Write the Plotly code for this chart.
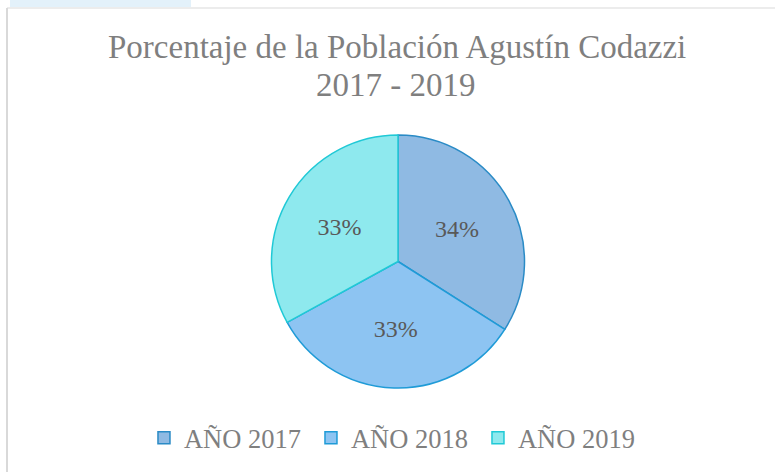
import plotly.graph_objects as go

labels = ["AÑO 2017", "AÑO 2018", "AÑO 2019"]
values = [34, 33, 33]
fill_colors = ["#8FBAE3", "#8DC4F2", "#8EE9EE"]
line_colors = ["#2A8BC6", "#1F9BD7", "#20C9D6"]
title_lines = ["Porcentaje de la Población Agustín Codazzi", "2017 - 2019"]

W, H = 775, 472
SERIF = "Liberation Serif, Times New Roman, serif"

fig = go.Figure(go.Pie(
    labels=labels,
    values=values,
    sort=False,
    direction="clockwise",
    rotation=0,
    marker=dict(colors=fill_colors, line=dict(color=line_colors, width=1.5)),
    textinfo="percent",
    texttemplate="%{percent:.0%}",
    textposition="inside",
    insidetextorientation="horizontal",
    textfont=dict(family=SERIF, size=24, color="#595959"),
    insidetextfont=dict(family=SERIF, size=24, color="#595959"),
    domain=dict(x=[(398 - 127) / W, (398 + 127) / W],
                y=[(H - 388) / H, (H - 135) / H]),
    hoverinfo="label+percent",
))

annotations = [
    dict(text=title_lines[0], x=397 / W, y=1 - 47 / H, xref="paper", yref="paper",
         xanchor="center", yanchor="middle", showarrow=False,
         font=dict(family=SERIF, size=33, color="#7F7F7F")),
    dict(text=title_lines[1], x=396 / W, y=1 - 85 / H, xref="paper", yref="paper",
         xanchor="center", yanchor="middle", showarrow=False,
         font=dict(family=SERIF, size=33, color="#7F7F7F")),
]

fig.update_layout(
    width=W, height=H,
    margin=dict(l=0, r=0, t=0, b=0),
    font=dict(family=SERIF, color="#595959"),
    paper_bgcolor="white",
    plot_bgcolor="white",
    annotations=annotations,
    legend=dict(
        orientation="h", x=0.509, xanchor="center", y=(H - 438) / H, yanchor="middle",
        font=dict(family=SERIF, size=26.5, color="#7F7F7F"),
        entrywidth=122, entrywidthmode="pixels",
        itemclick=False,
    ),
    shapes=[
        dict(type="rect", xref="paper", yref="paper",
             x0=10 / W, x1=191 / W, y0=(H - 7) / H, y1=1,
             fillcolor="#E3F1FA", line=dict(width=0), layer="below"),
        dict(type="line", xref="paper", yref="paper",
             x0=7 / W, x1=1.0, y0=(H - 8) / H, y1=(H - 8) / H,
             line=dict(color="#D9D9D9", width=1)),
        dict(type="line", xref="paper", yref="paper",
             x0=7 / W, x1=7 / W, y0=0, y1=(H - 8) / H,
             line=dict(color="#D9D9D9", width=2)),
    ],
)

fig.write_html("out.html", config={"displayModeBar": False},
               post_script="document.body.style.margin='0';")
